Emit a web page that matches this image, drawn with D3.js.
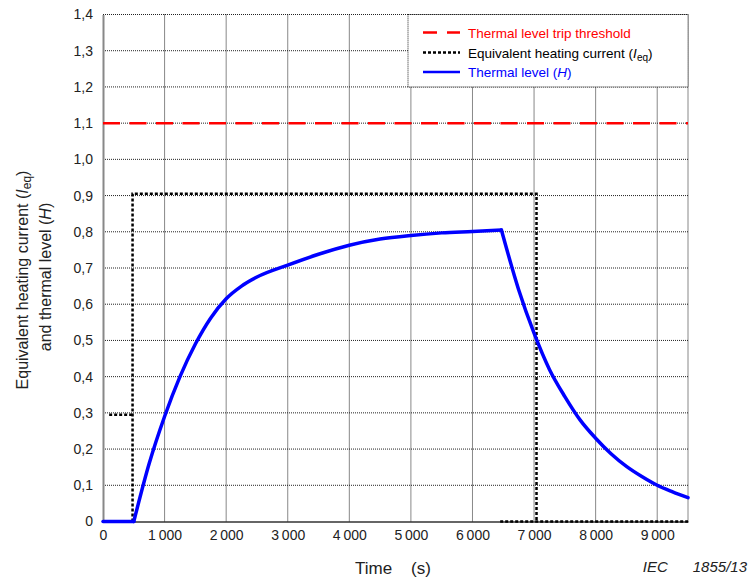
<!DOCTYPE html>
<html>
<head>
<meta charset="utf-8">
<script src="https://cdn.jsdelivr.net/npm/d3@7/dist/d3.min.js"></script>
<style>
  html, body { margin: 0; padding: 0; background: #fff; }
  svg { display: block; font-family: "Liberation Sans", Arial, sans-serif; }
</style>
</head>
<body>
<svg id="chart" width="750" height="578"></svg>
<script>
// Time axis ticks (s) and thermal-level axis ticks
const xTicks = [0, 1000, 2000, 3000, 4000, 5000, 6000, 7000, 8000, 9000];
const yTicks = [0, 0.1, 0.2, 0.3, 0.4, 0.5, 0.6, 0.7, 0.8, 0.9, 1.0, 1.1, 1.2, 1.3, 1.4];

// Thermal level trip threshold
const tripThreshold = 1.1;

// Equivalent heating current Ieq: step segments [time, value]
const ieqSegments = [
  [[100, 0.295], [480, 0.295]],
  [[480, 0], [480, 0.905], [7040, 0.905], [7040, 0]],
  [[6450, 0], [9500, 0]]
];

// Thermal level H over time (idle, heating, cooling)
const hTime  = [0, 500, 750, 1000, 1250, 1500, 1750, 2000, 2250, 2500, 3000, 3500, 4000, 4500, 5000, 5500, 6000, 6470,
                6750, 7000, 7250, 7500, 7750, 8000, 8250, 8500, 8750, 9000, 9250, 9500];
const hValue = [0, 0, 0.16, 0.29, 0.40, 0.49, 0.562, 0.615, 0.65, 0.675, 0.708, 0.738, 0.763, 0.780, 0.790, 0.797, 0.801, 0.805,
                0.64, 0.52, 0.42, 0.345, 0.28, 0.23, 0.187, 0.152, 0.124, 0.10, 0.082, 0.066];
// Indices where the thermal level changes regime (start of heating, start of cooling)
const hBreaks = [1, 17];

const legendItems = [
  { key: "trip", color: "#ff0000" },
  { key: "ieq",  color: "#000000" },
  { key: "h",    color: "#0000ff" }
];

const svg = d3.select("#chart");
const x = d3.scaleLinear().domain([0, 9500]).range([103, 688]);
const y = d3.scaleLinear().domain([0, 1.4]).range([521.5, 14.5]);

const fmtY = v => v === 0 ? "0" : d3.format(".1f")(v).replace(".", ",");
const fmtX = v => v === 0 ? "0" : d3.format(",")(v).replace(/,/g, "\u2009");

// Grid
const grid = svg.append("g");
grid.selectAll(".hg").data(yTicks.filter(d => d > 0)).join("line")
  .attr("x1", x(0)).attr("x2", x(9500))
  .attr("y1", d => y(d)).attr("y2", d => y(d))
  .attr("stroke", "#222").attr("stroke-width", 1).attr("stroke-dasharray", "1,1");
grid.selectAll(".vg").data(xTicks.filter(d => d > 0).concat([9500])).join("line")
  .attr("x1", d => x(d)).attr("x2", d => x(d))
  .attr("y1", y(0)).attr("y2", y(1.4))
  .attr("stroke", "#111").attr("stroke-width", 1).attr("stroke-dasharray", "1,1");

// Axes
const yAxis = d3.axisLeft(y).tickValues(yTicks).tickFormat(fmtY).tickSize(0).tickPadding(10);
svg.append("g").attr("transform", `translate(${x(0)},0)`).call(yAxis)
  .call(g => g.select(".domain").attr("stroke", "#888").attr("stroke-width", 2))
  .call(g => g.selectAll("text").attr("font-size", 14).attr("fill", "#222")
    .attr("font-family", "'Liberation Sans', Arial, sans-serif"));

const xAxis = d3.axisBottom(x).tickValues(xTicks).tickFormat(fmtX).tickSize(0).tickPadding(9);
svg.append("g").attr("transform", `translate(0,${y(0)})`).call(xAxis)
  .call(g => g.select(".domain").attr("stroke", "#333").attr("stroke-width", 1.5))
  .call(g => g.selectAll("text").attr("font-size", 14).attr("fill", "#222")
    .attr("font-family", "'Liberation Sans', Arial, sans-serif"));

// Trip threshold
svg.append("line")
  .attr("x1", x(0)).attr("x2", x(9500))
  .attr("y1", y(tripThreshold)).attr("y2", y(tripThreshold))
  .attr("stroke", "#ff0000").attr("stroke-width", 2.5).attr("stroke-dasharray", "17,9.5");

// Ieq
const line = d3.line().x(d => x(d[0])).y(d => y(d[1]));
svg.selectAll(".ieq").data(ieqSegments).join("path")
  .attr("d", line).attr("fill", "none")
  .attr("stroke", "#000").attr("stroke-width", 2.5).attr("stroke-dasharray", "3,2");

// Thermal level H: each regime drawn as a smooth curve, joined at sharp corners
const hData = hTime.map((t, i) => [t, hValue[i]]);
const bounds = [0, ...hBreaks, hData.length - 1];
const hParts = d3.range(bounds.length - 1).map(i => hData.slice(bounds[i], bounds[i + 1] + 1));
const smooth = d3.line().x(d => x(d[0])).y(d => y(d[1])).curve(d3.curveMonotoneX);
svg.selectAll(".hpart").data(hParts).join("path")
  .attr("d", smooth).attr("fill", "none")
  .attr("stroke", "#0000ff").attr("stroke-width", 3.5)
  .attr("stroke-linejoin", "round").attr("stroke-linecap", "round");

// Legend
const lg = svg.append("g");
lg.append("rect").attr("x", 408).attr("y", y(1.4)).attr("width", x(9500) - 408).attr("height", y(1.2) - y(1.4))
  .attr("fill", "#fff").attr("stroke", "#222").attr("stroke-width", 1).attr("stroke-dasharray", "1,1");
const rowY = [32.5, 52.5, 72];
lg.selectAll(".sample").data(legendItems).join("line")
  .attr("x1", 423).attr("x2", 460)
  .attr("y1", (d, i) => rowY[i]).attr("y2", (d, i) => rowY[i])
  .attr("stroke", d => d.color)
  .attr("stroke-width", 2.5)
  .attr("stroke-dasharray", d => d.key === "trip" ? "14,10" : d.key === "ieq" ? "3,2" : null);

const labels = lg.selectAll(".lab").data(legendItems).join("text")
  .attr("x", 468).attr("y", (d, i) => rowY[i] + 5)
  .attr("font-size", 13.5).attr("fill", d => d.color);
labels.each(function(d) {
  const t = d3.select(this);
  if (d.key === "trip") {
    t.text("Thermal level trip threshold");
  } else if (d.key === "ieq") {
    t.append("tspan").text("Equivalent heating current (");
    t.append("tspan").attr("font-style", "italic").text("I");
    t.append("tspan").attr("font-size", 10).attr("dy", 3).text("eq");
    t.append("tspan").attr("dy", -3).text(")");
  } else {
    t.append("tspan").text("Thermal level (");
    t.append("tspan").attr("font-style", "italic").text("H");
    t.append("tspan").text(")");
  }
});

// Axis titles
const yt = svg.append("text").attr("transform", "translate(28,280) rotate(-90)")
  .attr("text-anchor", "middle").attr("font-size", 16).attr("fill", "#222");
yt.append("tspan").text("Equivalent heating current (");
yt.append("tspan").attr("font-style", "italic").text("I");
yt.append("tspan").attr("font-size", 12).attr("dy", 3).text("eq");
yt.append("tspan").attr("dy", -3).text(")");

const yt2 = svg.append("text").attr("transform", "translate(51,277) rotate(-90)")
  .attr("text-anchor", "middle").attr("font-size", 16).attr("fill", "#222");
yt2.append("tspan").text("and thermal level (");
yt2.append("tspan").attr("font-style", "italic").text("H");
yt2.append("tspan").text(")");

svg.append("text").attr("x", 393).attr("y", 574).attr("text-anchor", "middle")
  .attr("font-size", 17).attr("fill", "#222").attr("xml:space", "preserve").text("Time    (s)");

svg.append("text").attr("x", 747).attr("y", 572).attr("text-anchor", "end")
  .attr("font-size", 15).attr("font-style", "italic").attr("fill", "#222")
  .attr("xml:space", "preserve").text("IEC      1855/13");
</script>
</body>
</html>
